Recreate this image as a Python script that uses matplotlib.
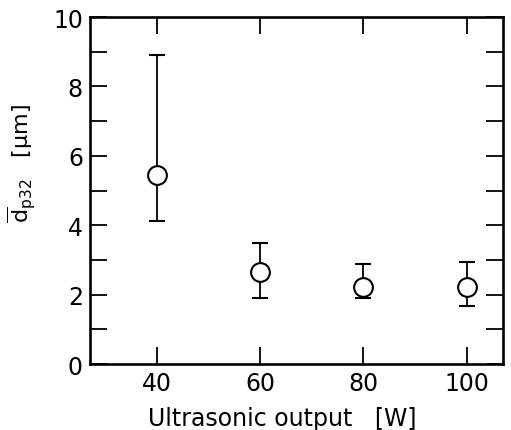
import matplotlib
matplotlib.use("Agg")
import matplotlib.pyplot as plt
from matplotlib.ticker import MultipleLocator

# ---- Data ----
power = [40, 60, 80, 100]            # ultrasonic output [W]
d32 = [5.45, 2.64, 2.22, 2.22]       # mean Sauter diameter [um]
err_hi = [8.91, 3.48, 2.88, 2.95]    # upper end of error bar
err_lo = [4.12, 1.90, 1.89, 1.66]    # lower end of error bar

plt.rcParams["font.family"] = ["DejaVu Sans"]
plt.rcParams["mathtext.fontset"] = "dejavusans"

fig = plt.figure(figsize=(5.11, 4.31), dpi=100)
ax = fig.add_axes([0.176, 0.153, 0.808, 0.805])

yerr = [[d - lo for d, lo in zip(d32, err_lo)],
        [hi - d for d, hi in zip(d32, err_hi)]]
ax.errorbar(power, d32, yerr=yerr, fmt="o", color="black",
            markerfacecolor="white", markeredgecolor="black",
            markersize=13.5, markeredgewidth=1.5, elinewidth=1.3,
            capsize=6, capthick=1.6, zorder=3)

ax.set_xlim(27, 107)
ax.set_ylim(0, 10)
ax.xaxis.set_major_locator(MultipleLocator(20))
ax.yaxis.set_major_locator(MultipleLocator(2))
ax.yaxis.set_minor_locator(MultipleLocator(1))

ax.tick_params(which="both", direction="in", top=True, right=True,
               length=12, width=1.3, labelsize=17, pad=5)
for s in ax.spines.values():
    s.set_linewidth(1.9)

ax.set_xlabel("Ultrasonic output   [W]", fontsize=17)
ax.set_ylabel(r"$\overline{\mathrm{d}}_{\mathrm{p32}}$   [$\mathrm{\mu}$m]",
              fontsize=16)
ax.xaxis.set_label_coords(0.465, -0.122)
ax.yaxis.set_label_coords(-0.125, 0.58)

plt.savefig("out.png", dpi=100)
